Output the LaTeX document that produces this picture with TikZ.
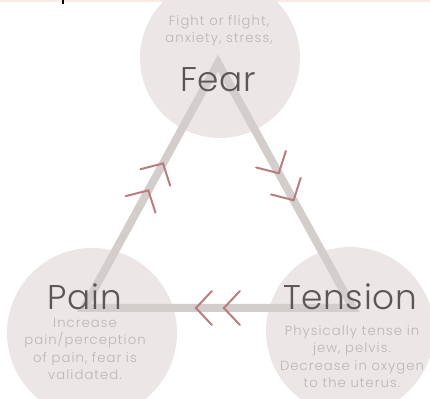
\documentclass[tikz,border=0pt]{standalone}
\usepackage{fontspec}
\setmainfont{Poppins}[UprightFont={* Light},LetterSpace=8]
\newfontfamily\airy{Poppins}[UprightFont={* Light},LetterSpace=2]
\usetikzlibrary{calc}
\definecolor{blush}{HTML}{ECE6E6}
\definecolor{stone}{HTML}{D3CDCC}
\definecolor{rosewood}{HTML}{B87D7E}
\definecolor{ink}{HTML}{5A5757}
\definecolor{ash}{HTML}{BDB6B6}
\definecolor{peach}{HTML}{F8ECE4}

\begin{document}
\begin{tikzpicture}[x=0.02cm,y=0.02cm,
    bubble/.style={circle,fill=blush,inner sep=0pt},
    title/.style={text=ink,anchor=base,inner sep=0pt,font=\airy\fontsize{19.5}{22}\selectfont},
    blurb/.style={text=ash,anchor=base,align=center,inner sep=0pt,font=\fontsize{7.5}{10}\selectfont},
    chev/.style={rosewood,line width=0.04cm,line cap=round}]
  \useasboundingbox (0,0) rectangle (430,399);
  \fill[peach] (0,397) rectangle (430,399);
  \draw[black,line width=0.03cm] (63,399)--(63,395);
  % circles
  \node[bubble,minimum size=3.2cm] (fear) at (220,341) {};
  \node[bubble,minimum size=3.4cm] (pain) at (92,66) {};
  \node[bubble,minimum size=3.36cm] (tension) at (350,68) {};
  % cycle
  \coordinate (fearpt) at (218,336);
  \coordinate (painpt) at (84,91);
  \coordinate (tensionpt) at (353,91);
  \draw[stone,line width=0.16cm] (painpt)--(fearpt)--(tensionpt)--cycle;
  \foreach \a/\b/\t/\ang in {painpt/fearpt/0.48/61,painpt/fearpt/0.59/61,
      fearpt/tensionpt/0.45/-61,fearpt/tensionpt/0.56/-61,
      tensionpt/painpt/0.48/180,tensionpt/painpt/0.584/180}{
    \draw[chev,shift={($(\a)!\t!(\b)$)},rotate=\ang] (-16,17)--(0,0)--(-16,-17);}
  % labels (base = last line)
  \node[title] (feart) at (218,307) {Fear};
  \node[title] (paint) at (85,89) {Pain};
  \node[title] (tensiont) at (350,89) {Tension};
  \node[blurb] (feard) at (219,356) {Fight or flight,\\anxiety, stress,};
  \node[blurb] (paind) at (85,19) {Increase\\pain/perception\\of pain, fear is\\validated.};
  \node[blurb] (tensiond) at (352,11) {Physically tense in\\jew, pelvis.\\Decrease in oxygen\\to the uterus.};
\end{tikzpicture}
\end{document}
